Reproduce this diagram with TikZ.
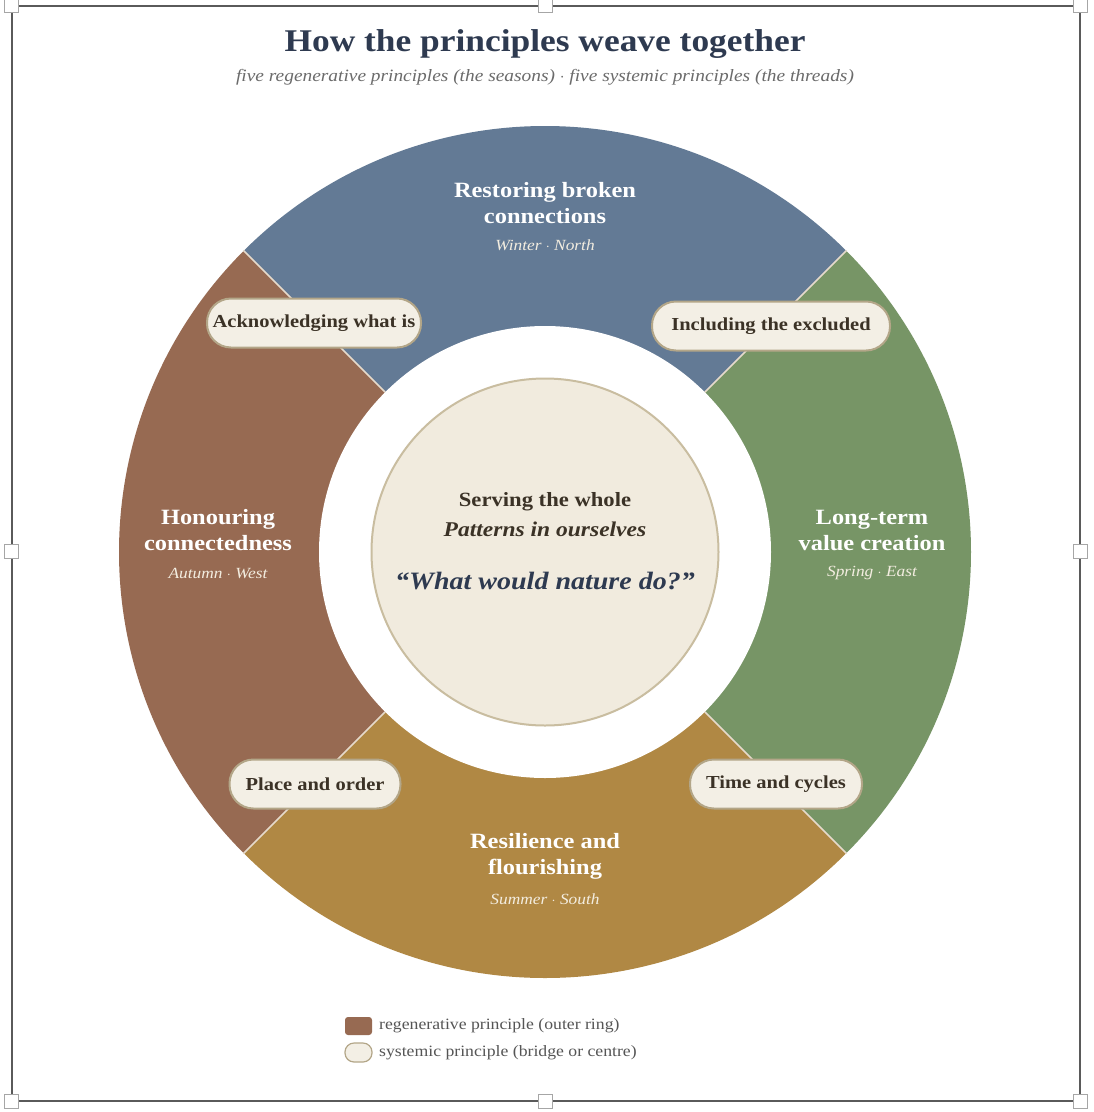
\documentclass[tikz,border=0pt]{standalone}
\usepackage{fontspec}
\setmainfont{Liberation Serif}[FakeStretch=1.12]
\definecolor{blueSeg}{HTML}{637A95}
\definecolor{greenSeg}{HTML}{779566}
\definecolor{goldSeg}{HTML}{B08844}
\definecolor{brownSeg}{HTML}{976A52}
\definecolor{seasonTxt}{HTML}{F3EDE0}
\definecolor{navy}{HTML}{2E3A50}
\definecolor{subGray}{HTML}{6B6B6B}
\definecolor{pillTxt}{HTML}{3B3226}
\definecolor{pillFill}{HTML}{F3EFE5}
\definecolor{pillLine}{HTML}{B3A688}
\definecolor{discFill}{HTML}{F1EBDE}
\definecolor{discLine}{HTML}{C9BDA0}
\definecolor{dividerCol}{HTML}{E6DACB}
\definecolor{frameCol}{HTML}{5A5A5A}
\definecolor{legendCol}{HTML}{555555}
\begin{document}
\begin{tikzpicture}[x=1pt,y=-1pt,
  segtitle/.style={text=white, font=\bfseries\fontsize{21.8}{26}\selectfont, align=center, inner sep=0pt},
  season/.style={text=seasonTxt, font=\itshape\fontsize{15.5}{18}\selectfont, inner sep=0pt},
  pill/.style={draw=pillLine, line width=2pt, fill=pillFill, rounded corners=24pt, minimum height=49pt, inner sep=0pt, text=pillTxt, font=\bfseries\fontsize{18.3}{22}\selectfont},
  divider/.style={draw=dividerCol, line width=1.6pt},
  handle/.style={draw=gray!70, fill=white, line width=0.8pt, minimum size=14pt, inner sep=0pt},
  legendtxt/.style={text=legendCol, font=\fontsize{15.8}{18}\selectfont, anchor=west, inner sep=0pt}
]
\useasboundingbox (0,0) rectangle (1094,1112);
\fill[white] (0,0) rectangle (1094,1112);

% frame with selection handles
\draw[frameCol, line width=2.2pt] (12,6) rectangle (1080,1101);
\node[handle] (h1) at (11,5) {};
\node[handle] (h2) at (545,5) {};
\node[handle] (h3) at (1080,5) {};
\node[handle] (h4) at (11,551) {};
\node[handle] (h5) at (1080,551) {};
\node[handle] (h6) at (11,1101) {};
\node[handle] (h7) at (545,1101) {};
\node[handle] (h8) at (1080,1101) {};

% title
\node[text=navy, font=\bfseries\fontsize{31.6}{36}\selectfont, inner sep=0pt] (title) at (545,44) {How the principles weave together};
\node[text=subGray, font=\itshape\fontsize{17.3}{22}\selectfont, inner sep=0pt] (subtitle) at (545,77) {five regenerative principles (the seasons) $\cdot$ five systemic principles (the threads)};

% ring
\coordinate (c) at (545,552);
\fill[blueSeg]  (c) -- ++(225:426) arc[start angle=225, end angle=315, radius=426] -- cycle;
\fill[greenSeg] (c) -- ++(-45:426) arc[start angle=-45, end angle=45, radius=426] -- cycle;
\fill[goldSeg]  (c) -- ++(45:426) arc[start angle=45, end angle=135, radius=426] -- cycle;
\fill[brownSeg] (c) -- ++(135:426) arc[start angle=135, end angle=225, radius=426] -- cycle;
\fill[white] (c) circle[radius=226];
\foreach \a in {45,135,225,315}{
  \draw[divider] ([shift={(\a:226)}]c) -- ([shift={(\a:426.5)}]c);
}

% centre disc
\draw[draw=discLine, fill=discFill, line width=2pt] (c) circle[radius=173.5];
\node[text=pillTxt, font=\bfseries\fontsize{20.2}{24}\selectfont, inner sep=0pt] (serve) at (545,502) {Serving the whole};
\node[text=pillTxt, font=\bfseries\itshape\fontsize{21}{24}\selectfont, inner sep=0pt] (patterns) at (545,529) {Patterns in ourselves};
\node[text=navy, font=\bfseries\itshape\fontsize{25}{30}\selectfont, inner sep=0pt] (quote) at (545,581) {“What would nature do?”};

% segment labels
\node[segtitle] (north) at (545,203) {Restoring broken\\connections};
\node[season] (northS) at (545,245) {Winter $\cdot$ North};
\node[segtitle] (east) at (872,530) {Long-term\\value creation};
\node[season] (eastS) at (872,573) {Spring $\cdot$ East};
\node[segtitle] (west) at (218,530) {Honouring\\connectedness};
\node[season] (westS) at (218,573) {Autumn $\cdot$ West};
\node[segtitle] (south) at (545,856) {Resilience and\\flourishing};
\node[season] (southS) at (545,899) {Summer $\cdot$ South};

% bridge pills
\node[pill, minimum width=214pt] (ack) at (314,323) {\raisebox{-1.5pt}{Acknowledging what is}};
\node[pill, minimum width=238pt] (incl) at (771,326) {\raisebox{-1.5pt}{Including the excluded}};
\node[pill, minimum width=171pt] (place) at (315,784) {\raisebox{-1.5pt}{Place and order}};
\node[pill, minimum width=172pt] (time) at (776,784) {\raisebox{-1.5pt}{Time and cycles}};

% legend
\fill[brownSeg, rounded corners=3pt] (345,1017) rectangle (372,1035);
\draw[draw=pillLine, fill=pillFill, line width=1.2pt, rounded corners=9pt] (345,1043) rectangle (372,1062);
\node[legendtxt] (leg1) at (379,1026) {regenerative principle (outer ring)};
\node[legendtxt] (leg2) at (379,1053) {systemic principle (bridge or centre)};
\end{tikzpicture}
\end{document}
